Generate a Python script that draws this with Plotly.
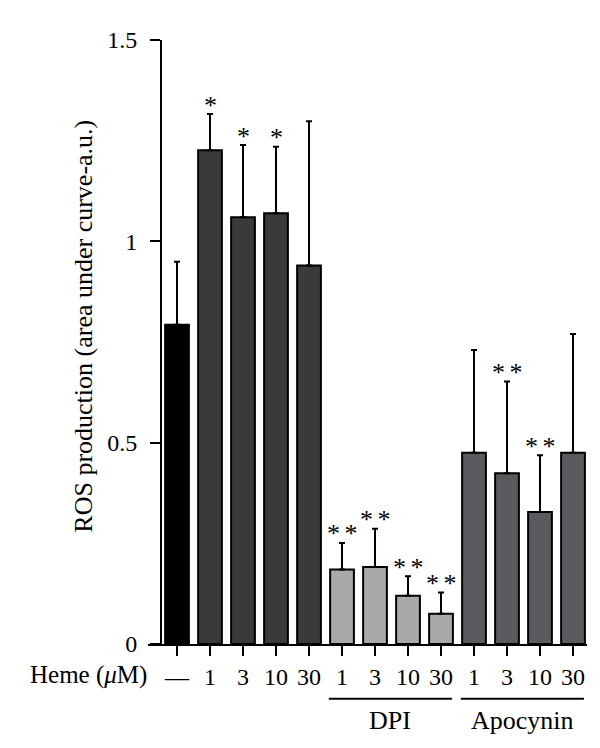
import plotly.graph_objects as go

# ---- data ----
tick_labels = ["—", "1", "3", "10", "30", "1", "3", "10", "30", "1", "3", "10", "30"]
values = [0.793, 1.226, 1.060, 1.070, 0.940, 0.185, 0.191, 0.120, 0.075, 0.475, 0.424, 0.328, 0.475]
errors = [0.156, 0.090, 0.179, 0.165, 0.358, 0.066, 0.095, 0.048, 0.053, 0.255, 0.228, 0.141, 0.295]
group_of_bar = ["control"] + ["heme"] * 4 + ["dpi"] * 4 + ["apocynin"] * 4
signif = ["", "*", "*", "*", "", "**", "**", "**", "**", "", "**", "**", ""]
y_tick_vals = [0, 0.5, 1, 1.5]
y_tick_text = ["0", "0.5", "1", "1.5"]
group_labels = {"dpi": "DPI", "apocynin": "Apocynin"}

colors = {"control": "#000000", "heme": "#3a3a3a", "dpi": "#a9a9a9", "apocynin": "#5b5b5f"}
FONT = "Liberation Serif"

x = list(range(len(values)))
bar_colors = [colors[g] for g in group_of_bar]

fig = go.Figure()
fig.add_trace(go.Bar(
    x=x, y=values, width=0.72,
    marker=dict(color=bar_colors, line=dict(color="black", width=2)),
    error_y=dict(type="data", array=errors, arrayminus=[0] * len(values), symmetric=False,
                 color="black", thickness=2, width=3),
    showlegend=False,
))

# significance stars
for i, s in enumerate(signif):
    if s:
        fig.add_annotation(x=i, y=values[i] + errors[i], xref="x", yref="y",
                           text="<span style='font-size:18px'> </span>".join(s),
                           showarrow=False, yanchor="middle", yshift=9,
                           font=dict(family=FONT, size=26, color="#000000"))

# group underlines + labels
for g, lab in group_labels.items():
    idx = [i for i, gg in enumerate(group_of_bar) if gg == g]
    x0, x1 = idx[0] - 0.4, idx[-1] + 0.33
    fig.add_shape(type="line", xref="x", yref="paper", x0=x0, x1=x1, y0=-0.0906, y1=-0.0906,
                  line=dict(color="black", width=2))
    fig.add_annotation(x=(x0 + x1) / 2, y=-0.127, xref="x", yref="paper", text=lab,
                       showarrow=False, yanchor="middle",
                       font=dict(family=FONT, size=26, color="black"))

fig.add_annotation(x=0.0023, y=-0.0513, xref="paper", yref="paper", text="Heme (<i>μ</i>M)",
                   showarrow=False, xanchor="right", yanchor="middle",
                   font=dict(family=FONT, size=25, color="black"))

fig.add_annotation(x=-0.1458, y=0.527, xref="paper", yref="paper",
                   text="ROS production (area under curve-a.u.)", textangle=-90,
                   showarrow=False, xanchor="center", yanchor="middle",
                   font=dict(family=FONT, size=26, color="black"))

fig.update_layout(
    width=600, height=748,
    margin=dict(l=140, r=21, t=32, b=112),
    plot_bgcolor="white", paper_bgcolor="white",
    font=dict(family=FONT, color="black"),
    xaxis=dict(range=[-0.879, 12.424], showline=True, linecolor="black", linewidth=2,
               ticks="outside", ticklen=10, tickwidth=2, tickcolor="black",
               tickvals=x, ticktext=tick_labels, tickfont=dict(family=FONT, size=24),
               showgrid=False, zeroline=False, fixedrange=True),
    yaxis=dict(range=[0, 1.5], anchor="free", position=13 / 439, showline=True,
               linecolor="black", linewidth=2, ticks="outside", ticklen=10, tickwidth=2,
               tickcolor="black", tickvals=y_tick_vals, ticktext=y_tick_text,
               tickfont=dict(family=FONT, size=24), ticklabelstandoff=8,
               showgrid=False, zeroline=False, fixedrange=True),
)

fig.write_html("out.html")
